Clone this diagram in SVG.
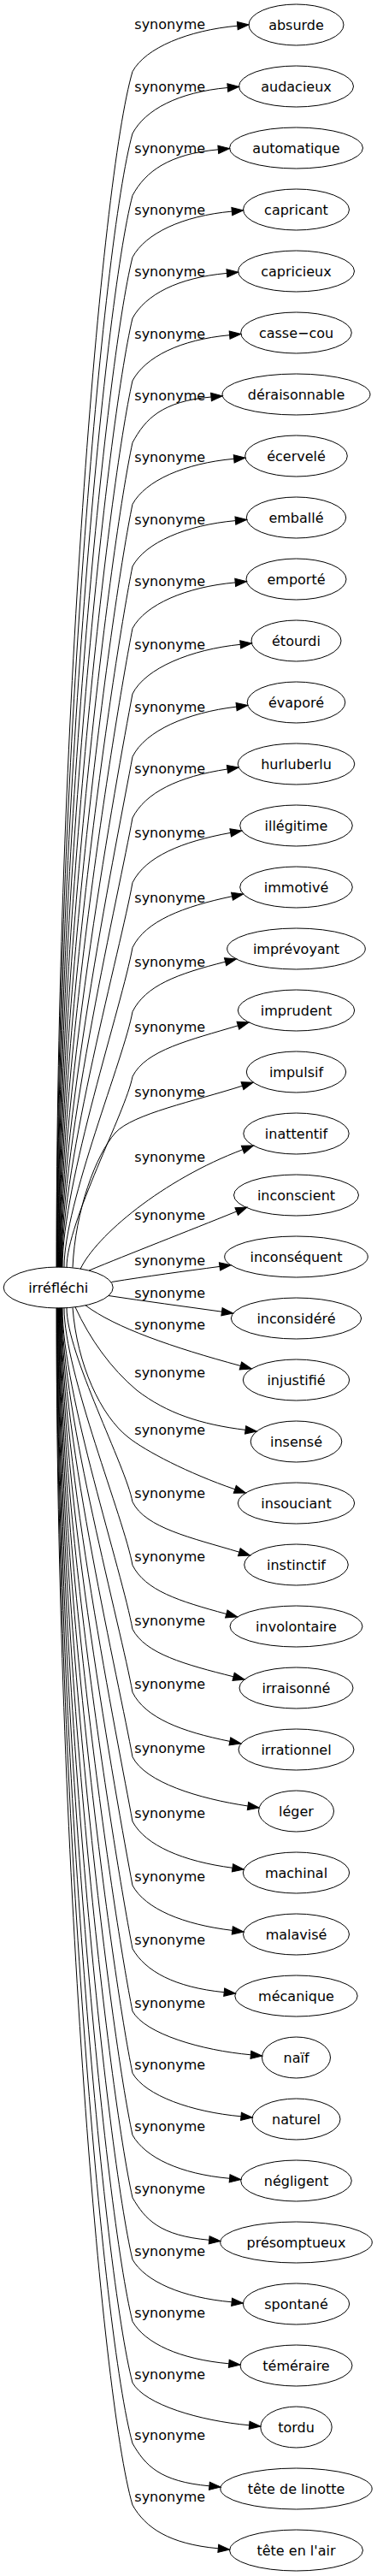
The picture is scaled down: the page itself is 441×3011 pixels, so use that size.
<svg xmlns="http://www.w3.org/2000/svg" width="441" height="3011" viewBox="0 0 441 3011">
<style>
text{font-family:"DejaVu Sans",sans-serif;font-size:16px;fill:#000;text-anchor:middle}
ellipse{fill:none;stroke:#000;stroke-width:1}
.e path{fill:none;stroke:#000;stroke-width:1;marker-end:url(#ah)}
</style>
<defs>
<marker id="ah" viewBox="0 -4.67 13.3 9.34" refX="0" refY="0" markerWidth="13.3" markerHeight="9.34" markerUnits="userSpaceOnUse" orient="auto" overflow="visible"><path d="M0,-4.67 L13.3,0 L0,4.67 Z" fill="#000" stroke="#000" stroke-width="1"/></marker>
</defs>
<rect width="441" height="3011" fill="#fff"/>
<g id="connectors" class="e">
<g id="e0"><path d="M66,1481.2 C66,852 118,209 155,83.7 C170,56 220,35.4 277.8,30.2"/><text x="198.7" y="34.3">synonyme</text></g>
<g id="e1"><path d="M66.5,1481.2 C66.5,902.5 119.8,283 155,156 C170,128.2 208.5,107.7 266.3,102.5"/><text x="198.7" y="106.6">synonyme</text></g>
<g id="e2"><path d="M67,1481.2 C67,950.8 121.7,355.8 155,228.5 C170,200.6 197.5,180 255.3,174.8"/><text x="198.7" y="179.1">synonyme</text></g>
<g id="e3"><path d="M67.5,1481.2 C67.5,997.2 123.5,427.5 155,300.7 C170,272.8 213.5,252.3 271.3,247.1"/><text x="198.7" y="251.3">synonyme</text></g>
<g id="e4"><path d="M68,1481.2 C68,1041.1 125.3,497.6 155,372 C170,344.6 207.6,324.6 265.4,319.4"/><text x="198.7" y="322.6">synonyme</text></g>
<g id="e5"><path d="M68.5,1481.2 C68.5,1083.8 127.2,568.3 155,445 C170,417.3 210.8,396.9 268.6,391.7"/><text x="198.7" y="395.6">synonyme</text></g>
<g id="e6"><path d="M69,1481.2 C69,1124.4 129,637.7 155,517.4 C170,489.6 189.2,469.2 247,464"/><text x="198.7" y="468">synonyme</text></g>
<g id="e7"><path d="M69.5,1481.2 C69.5,1162.9 130.8,705.9 155,589.4 C170,561.8 215.9,541.5 273.7,536.3"/><text x="198.7" y="540">synonyme</text></g>
<g id="e8"><path d="M70,1481.2 C70,1199.7 132.6,773.7 155,662 C170,634.2 217.6,613.8 275.4,608.6"/><text x="198.7" y="612.6">synonyme</text></g>
<g id="e9"><path d="M70.5,1481.2 C70.5,1234.6 134.5,840.7 155,734.5 C170,706.6 217.4,686.1 275.2,680.9"/><text x="198.7" y="685.1">synonyme</text></g>
<g id="e10"><path d="M71,1481.2 C71,1268.7 136.3,910.2 155,811 C170,781 223.5,759.1 281.2,753.3"/><text x="198.7" y="758.6">synonyme</text></g>
<g id="e11"><path d="M71.5,1481.2 C71.5,1300 138.1,976.3 155,884.5 C170,854.1 219,833 276.6,826.1"/><text x="198.7" y="832.1">synonyme</text></g>
<g id="e12"><path d="M72,1481.2 C72,1328.7 140,1039.8 155,956 C170,926.4 208.6,907.6 266,899"/><text x="198.7" y="903.6">synonyme</text></g>
<g id="e13"><path d="M72.5,1481.2 C72.5,1356.6 141.8,1106 155,1031.7 C170,1001.4 212.6,983.7 269.7,973.4"/><text x="198.7" y="979.3">synonyme</text></g>
<g id="e14"><path d="M73,1481.2 C73,1382.6 143.6,1171.6 155,1107.6 C170,1076.5 214.7,1059.6 271.5,1047.7"/><text x="198.7" y="1055.2">synonyme</text></g>
<g id="e15"><path d="M75,1481.2 C75,1406.5 145.5,1235.5 155,1182.6 C170,1152.2 207.3,1138.3 263.6,1124.2"/><text x="198.7" y="1130.2">synonyme</text></g>
<g id="e16"><path d="M78,1481.3 C78,1428.4 147.3,1299.1 155,1258.4 C170,1227.4 222.8,1215.5 278.4,1198.8"/><text x="198.7" y="1206">synonyme</text></g>
<g id="e17"><path d="M85,1481.5 C88,1415 112,1350 135,1324 C155,1302 228,1287 283.5,1269.2"/><text x="198.7" y="1281.9">synonyme</text></g>
<g id="e18"><path d="M94,1483.4 C112,1445 190,1379 284,1343.7"/><text x="198.7" y="1357.8">synonyme</text></g>
<g id="e19"><path d="M104,1485.1 C150,1466 220,1439 276.7,1416"/><text x="198.7" y="1425.6">synonyme</text></g>
<g id="e20"><path d="M130.5,1498.5 C170,1492 217,1485.7 257,1480.4"/><text x="198.7" y="1479.3">synonyme</text></g>
<g id="e21"><path d="M127,1514.5 C170,1521 215,1527 259.5,1533.2"/><text x="198.7" y="1517.2">synonyme</text></g>
<g id="e22"><path d="M100,1525.8 C135,1552 202,1575 281.4,1596.5"/><text x="198.7" y="1553.8">synonyme</text></g>
<g id="e23"><path d="M88,1527.8 C105,1565 130,1600 160,1625 C195,1652 235,1665 287.1,1671.4"/><text x="198.7" y="1609.6">synonyme</text></g>
<g id="e24"><path d="M85,1528.5 C90,1595 118,1655 150,1680 C170,1696 220,1722 274.8,1740.8"/><text x="198.7" y="1677.2">synonyme</text></g>
<g id="e25"><path d="M78,1528.8 C78,1582.6 147.3,1714.1 155,1755.5 C170,1786 224.2,1797.5 279.8,1814.2"/><text x="198.7" y="1751.1">synonyme</text></g>
<g id="e26"><path d="M75,1528.8 C75,1604.1 145.5,1776.3 155,1829.5 C170,1859.1 208.8,1871.4 264.8,1886.5"/><text x="198.7" y="1825.1">synonyme</text></g>
<g id="e27"><path d="M73,1528.8 C73,1627.8 143.6,1839.9 155,1904.2 C170,1933.1 216.8,1945.7 273.1,1959.8"/><text x="198.7" y="1899.8">synonyme</text></g>
<g id="e28"><path d="M72.5,1528.8 C72.5,1653.3 141.8,1903.8 155,1978.1 C170,2007.9 212,2024 268.9,2035.4"/><text x="198.7" y="1973.7">synonyme</text></g>
<g id="e29"><path d="M72,1528.8 C72,1681.2 140,1969.8 155,2053.6 C170,2083.4 232.6,2102.4 290,2111"/><text x="198.7" y="2049.2">synonyme</text></g>
<g id="e30"><path d="M71.5,1528.8 C71.5,1711.1 138.1,2036.7 155,2129 C170,2157.2 214.5,2175.8 272,2183.3"/><text x="198.7" y="2124.6">synonyme</text></g>
<g id="e31"><path d="M71,1528.8 C71,1742.8 136.3,2103.9 155,2203.8 C170,2231.2 214.2,2249.5 271.8,2256.4"/><text x="198.7" y="2199.4">synonyme</text></g>
<g id="e32"><path d="M70.5,1528.8 C70.5,1776.2 134.5,2171.2 155,2277.7 C170,2304.2 204.5,2322.9 262.2,2328.7"/><text x="198.7" y="2273.3">synonyme</text></g>
<g id="e33"><path d="M70,1528.8 C70,1811.3 132.6,2238.8 155,2350.9 C170,2377.4 235.6,2396.6 293.4,2401.8"/><text x="198.7" y="2346.5">synonyme</text></g>
<g id="e34"><path d="M69.5,1528.8 C69.5,1848 130.8,2306.4 155,2423.2 C170,2449.5 224.2,2468.6 282,2473.8"/><text x="198.7" y="2418.8">synonyme</text></g>
<g id="e35"><path d="M69,1528.8 C69,1886.7 129,2374.9 155,2495.6 C170,2522 210.8,2541.1 268.6,2546.3"/><text x="198.7" y="2491.2">synonyme</text></g>
<g id="e36"><path d="M68.5,1528.8 C68.5,1927.6 127.2,2445 155,2568.8 C170,2594.5 186.9,2613.1 244.7,2618.3"/><text x="198.7" y="2564.4">synonyme</text></g>
<g id="e37"><path d="M68,1528.8 C68,1970.2 125.3,2515.2 155,2641.1 C170,2666.9 213.3,2685.6 271.1,2690.8"/><text x="198.7" y="2636.7">synonyme</text></g>
<g id="e38"><path d="M67.5,1528.8 C67.5,2014.5 123.5,2586.3 155,2713.5 C170,2739.1 210,2757.6 267.8,2762.8"/><text x="198.7" y="2709.1">synonyme</text></g>
<g id="e39"><path d="M67,1528.8 C67,2060.7 121.7,2657.5 155,2785.1 C170,2810.9 233.8,2829.6 291.6,2834.8"/><text x="198.7" y="2780.7">synonyme</text></g>
<g id="e40"><path d="M66.5,1528.8 C66.5,2108.4 119.8,2728.9 155,2856 C170,2881.9 187.1,2900.6 244.9,2905.8"/><text x="198.7" y="2851.6">synonyme</text></g>
<g id="e41"><path d="M66,1528.8 C66,2158.4 118,2802.1 155,2928 C170,2954.4 197.5,2973.6 255.3,2978.8"/><text x="198.7" y="2923.6">synonyme</text></g>
</g>
<g id="n-irreflechi"><ellipse cx="68.2" cy="1505" rx="64" ry="24"/><text x="68.2" y="1510.6">irréfléchi</text></g>
<g id="n0"><ellipse cx="346.5" cy="29" rx="55.5" ry="24"/><text x="346.5" y="34.6">absurde</text></g>
<g id="n1"><ellipse cx="346.5" cy="101" rx="67" ry="24"/><text x="346.5" y="106.6">audacieux</text></g>
<g id="n2"><ellipse cx="346.5" cy="173" rx="78" ry="24"/><text x="346.5" y="178.6">automatique</text></g>
<g id="n3"><ellipse cx="346.5" cy="245" rx="62" ry="24"/><text x="346.5" y="250.6">capricant</text></g>
<g id="n4"><ellipse cx="346.5" cy="317" rx="68" ry="24"/><text x="346.5" y="322.6">capricieux</text></g>
<g id="n5"><ellipse cx="346.5" cy="389" rx="64.8" ry="24"/><text x="346.5" y="394.6">casse−cou</text></g>
<g id="n6"><ellipse cx="346.5" cy="461" rx="86.5" ry="24"/><text x="346.5" y="466.6">déraisonnable</text></g>
<g id="n7"><ellipse cx="346.5" cy="533" rx="59.8" ry="24"/><text x="346.5" y="538.6">écervelé</text></g>
<g id="n8"><ellipse cx="346.5" cy="605" rx="58.2" ry="24"/><text x="346.5" y="610.6">emballé</text></g>
<g id="n9"><ellipse cx="346.5" cy="677" rx="58.5" ry="24"/><text x="346.5" y="682.6">emporté</text></g>
<g id="n10"><ellipse cx="346.5" cy="749" rx="52.5" ry="24"/><text x="346.5" y="754.6">étourdi</text></g>
<g id="n11"><ellipse cx="346.5" cy="821" rx="57.3" ry="24"/><text x="346.5" y="826.6">évaporé</text></g>
<g id="n12"><ellipse cx="346.5" cy="893" rx="68.3" ry="24"/><text x="346.5" y="898.6">hurluberlu</text></g>
<g id="n13"><ellipse cx="346.5" cy="965" rx="65.8" ry="24"/><text x="346.5" y="970.6">illégitime</text></g>
<g id="n14"><ellipse cx="346.5" cy="1037" rx="65.8" ry="24"/><text x="346.5" y="1042.6">immotivé</text></g>
<g id="n15"><ellipse cx="346.5" cy="1109" rx="80.8" ry="24"/><text x="346.5" y="1114.6">imprévoyant</text></g>
<g id="n16"><ellipse cx="346.5" cy="1181" rx="68.2" ry="24"/><text x="346.5" y="1186.6">imprudent</text></g>
<g id="n17"><ellipse cx="346.5" cy="1253" rx="58.2" ry="24"/><text x="346.5" y="1258.6">impulsif</text></g>
<g id="n18"><ellipse cx="346.5" cy="1325" rx="61.7" ry="24"/><text x="346.5" y="1330.6">inattentif</text></g>
<g id="n19"><ellipse cx="346.5" cy="1397" rx="73" ry="24"/><text x="346.5" y="1402.6">inconscient</text></g>
<g id="n20"><ellipse cx="346.5" cy="1469" rx="83.8" ry="24"/><text x="346.5" y="1474.6">inconséquent</text></g>
<g id="n21"><ellipse cx="346.5" cy="1541" rx="76.2" ry="24"/><text x="346.5" y="1546.6">inconsidéré</text></g>
<g id="n22"><ellipse cx="346.5" cy="1613" rx="62.2" ry="24"/><text x="346.5" y="1618.6">injustifié</text></g>
<g id="n23"><ellipse cx="346.5" cy="1685" rx="53.3" ry="24"/><text x="346.5" y="1690.6">insensé</text></g>
<g id="n24"><ellipse cx="346.5" cy="1757" rx="68.2" ry="24"/><text x="346.5" y="1762.6">insouciant</text></g>
<g id="n25"><ellipse cx="346.5" cy="1829" rx="60.8" ry="24"/><text x="346.5" y="1834.6">instinctif</text></g>
<g id="n26"><ellipse cx="346.5" cy="1901" rx="77.5" ry="24"/><text x="346.5" y="1906.6">involontaire</text></g>
<g id="n27"><ellipse cx="346.5" cy="1973" rx="66.5" ry="24"/><text x="346.5" y="1978.6">irraisonné</text></g>
<g id="n28"><ellipse cx="346.5" cy="2045" rx="67.5" ry="24"/><text x="346.5" y="2050.6">irrationnel</text></g>
<g id="n29"><ellipse cx="346.5" cy="2117" rx="44" ry="24"/><text x="346.5" y="2122.6">léger</text></g>
<g id="n30"><ellipse cx="346.5" cy="2189" rx="62.2" ry="24"/><text x="346.5" y="2194.6">machinal</text></g>
<g id="n31"><ellipse cx="346.5" cy="2261" rx="62" ry="24"/><text x="346.5" y="2266.6">malavisé</text></g>
<g id="n32"><ellipse cx="346.5" cy="2333" rx="71.7" ry="24"/><text x="346.5" y="2338.6">mécanique</text></g>
<g id="n33"><ellipse cx="346.5" cy="2405" rx="40" ry="24"/><text x="346.5" y="2410.6">naïf</text></g>
<g id="n34"><ellipse cx="346.5" cy="2477" rx="51.5" ry="24"/><text x="346.5" y="2482.6">naturel</text></g>
<g id="n35"><ellipse cx="346.5" cy="2549" rx="64.8" ry="24"/><text x="346.5" y="2554.6">négligent</text></g>
<g id="n36"><ellipse cx="346.5" cy="2621" rx="88.8" ry="24"/><text x="346.5" y="2626.6">présomptueux</text></g>
<g id="n37"><ellipse cx="346.5" cy="2693" rx="62.2" ry="24"/><text x="346.5" y="2698.6">spontané</text></g>
<g id="n38"><ellipse cx="346.5" cy="2765" rx="65.5" ry="24"/><text x="346.5" y="2770.6">téméraire</text></g>
<g id="n39"><ellipse cx="346.5" cy="2837" rx="41.7" ry="24"/><text x="346.5" y="2842.6">tordu</text></g>
<g id="n40"><ellipse cx="346.5" cy="2909" rx="88.7" ry="24"/><text x="346.5" y="2914.6">tête de linotte</text></g>
<g id="n41"><ellipse cx="346.5" cy="2981" rx="78" ry="24"/><text x="346.5" y="2986.6">tête en l'air</text></g>
</svg>
